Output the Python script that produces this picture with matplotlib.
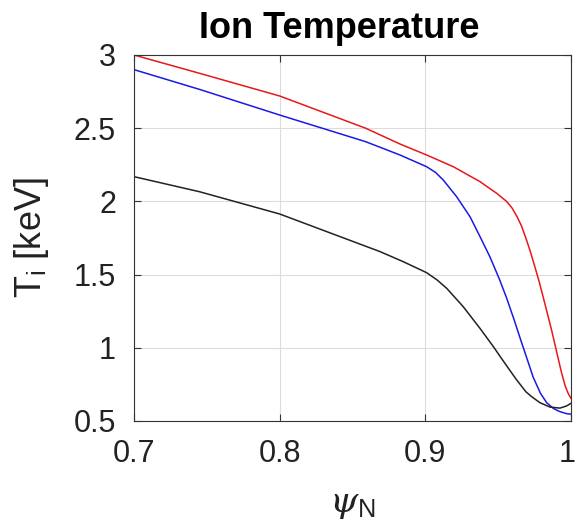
import numpy as np
import matplotlib
matplotlib.use("Agg")
import matplotlib.pyplot as plt
import matplotlib.transforms as mtransforms

# values
psi_red = [0.70, 0.745, 0.80, 0.859, 0.8826, 0.9009, 0.9192, 0.9375, 0.949, 0.9558,
           0.9595, 0.963, 0.9661, 0.969, 0.972, 0.975, 0.9782, 0.9821, 0.9867,
           0.9902, 0.9935, 0.996, 0.998, 1.0]
ti_red = [3.00, 2.875, 2.72, 2.50, 2.392, 2.317, 2.237, 2.135, 2.055, 2.0,
          1.955, 1.895, 1.83, 1.75, 1.66, 1.56, 1.45, 1.30, 1.12,
          0.97, 0.83, 0.74, 0.69, 0.655]

psi_blue = [0.70, 0.745, 0.80, 0.859, 0.8826, 0.9009, 0.907, 0.9123, 0.9215, 0.9307,
            0.9375, 0.9444, 0.9508, 0.9558, 0.961, 0.9661, 0.970, 0.974, 0.979,
            0.9833, 0.988, 0.9924, 0.997, 1.0]
ti_blue = [2.90, 2.765, 2.59, 2.408, 2.317, 2.237, 2.198, 2.146, 2.032, 1.895,
           1.76, 1.62, 1.47, 1.34, 1.19, 1.035, 0.92, 0.80, 0.69,
           0.625, 0.585, 0.564, 0.55, 0.547]

psi_black = [0.70, 0.745, 0.80, 0.8689, 0.8849, 0.9009, 0.908, 0.9147, 0.926, 0.9375,
             0.9467, 0.9535, 0.962, 0.969, 0.973, 0.9787, 0.9856, 0.9924, 0.997, 1.0]
ti_black = [2.169, 2.066, 1.914, 1.657, 1.588, 1.513, 1.464, 1.406, 1.281, 1.133,
            1.008, 0.91, 0.79, 0.70, 0.666, 0.625, 0.595, 0.588, 0.603, 0.621]

plt.rcParams['font.family'] = 'Liberation Sans'
plt.rcParams['mathtext.fontset'] = 'custom'
plt.rcParams['mathtext.rm'] = 'Liberation Sans'
plt.rcParams['mathtext.it'] = 'DejaVu Serif:italic'

fig = plt.figure(figsize=(5.77, 5.32), dpi=100)
ax = fig.add_axes([134/577, 1-421/532, 437/577, 366/532])

ax.plot(psi_red, ti_red, color='#e8171b', lw=1.1)
ax.plot(psi_blue, ti_blue, color='#1a1ae6', lw=1.1)
ax.plot(psi_black, ti_black, color='#222222', lw=1.1)

ax.set_xlim(0.7, 1.0)
ax.set_ylim(0.5, 3.0)
ax.set_xticks([0.7, 0.8, 0.9, 1.0])
ax.set_xticklabels(['0.7', '0.8', '0.9', '1'])
ax.set_yticks([0.5, 1, 1.5, 2, 2.5, 3])
ax.set_yticklabels(['0.5', '1', '1.5', '2', '2.5', '3'])
ax.grid(True, color='#dcdcdc', lw=0.8)
ax.tick_params(direction='in', top=True, right=True, labelsize=22,
               length=5, color='#333333', pad=13, labelcolor='#222222')
for s in ax.spines.values():
    s.set_color('#333333')
    s.set_linewidth(0.8)

# nudge the last x label a bit left so it stays inside the figure
lab = ax.get_xticklabels()[-1]
lab.set_transform(lab.get_transform() + mtransforms.ScaledTranslation(-3/72, 0, fig.dpi_scale_trans))

ax.set_title('Ion Temperature', fontsize=26, fontweight='bold', pad=12, x=0.469)
ax.set_ylabel(r'T$_{\rm i}$ [keV]', fontsize=26, labelpad=16, color='#222222')
ax.set_xlabel(r'$\psi_{\rm N}$', fontsize=26, labelpad=12, color='#222222')

fig.savefig('out.png', dpi=100)
